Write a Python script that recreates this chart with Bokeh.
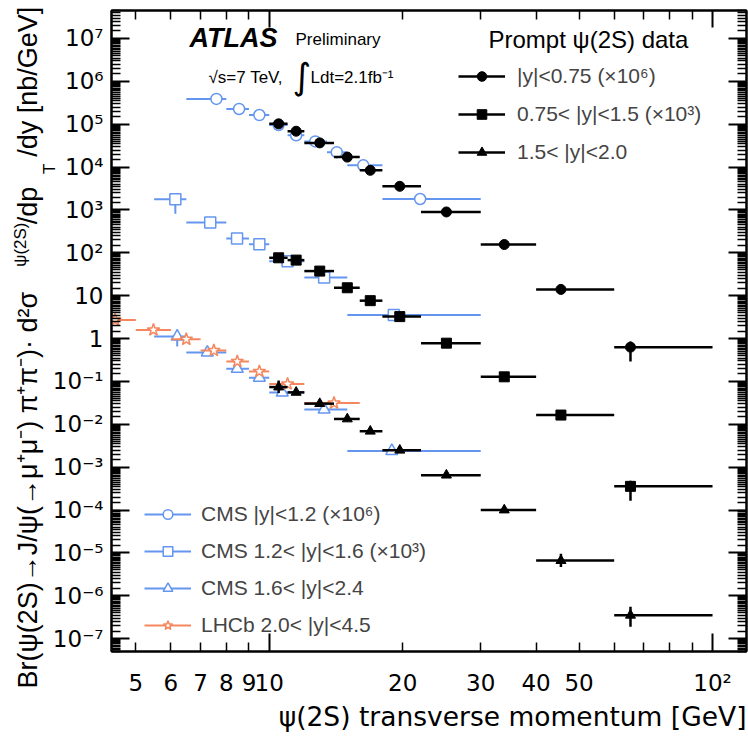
import numpy as np
from bokeh.plotting import figure
from bokeh.models import (LogAxis, FixedTicker, Legend, LegendItem, Label, Title,
                          Range1d, ColumnDataSource, CustomJSTickFormatter)
from bokeh.embed import file_html
from bokeh.resources import INLINE

# ---------------- data ----------------
atlas_pt_lo = [10, 11, 12, 14, 16, 18, 22, 30, 40, 60]
atlas_pt_hi = [11, 12, 14, 16, 18, 22, 30, 40, 60, 100]
atlas_pt = [10.5, 11.5, 13.0, 15.0, 16.9, 19.7, 25.1, 33.9, 45.5, 65.3]

# |y|<0.75 (x10^6)
atlas_central = [1.02e5, 6.87e4, 3.67e4, 1.71e4, 8.4e3, 3.56e3, 898, 156, 14.0, 0.63]
atlas_central_lo = [1.02e5, 6.87e4, 3.67e4, 1.71e4, 8.4e3, 3.56e3, 898, 156, 14.0, 0.29]
atlas_central_hi = [1.02e5, 6.87e4, 3.67e4, 1.71e4, 8.4e3, 3.56e3, 898, 156, 14.0, 0.85]
# 0.75<|y|<1.5 (x10^3)
atlas_middle = [76.5, 67.6, 37.5, 15.3, 7.65, 3.25, 0.78, 0.128, 0.0164, 3.56e-4]
atlas_middle_lo = [76.5, 67.6, 37.5, 15.3, 7.65, 3.25, 0.78, 0.128, 0.0164, 1.64e-4]
atlas_middle_hi = [76.5, 67.6, 37.5, 15.3, 7.65, 3.25, 0.78, 0.128, 0.0164, 4.8e-4]
# 1.5<|y|<2.0
atlas_forward = [0.0738, 0.0555, 0.0303, 0.0133, 6.88e-3, 2.48e-3, 6.5e-4, 1.0e-4, 6.6e-6, 3.5e-7]
atlas_forward_lo = [0.0535, 0.050, 0.0303, 0.0133, 6.88e-3, 2.48e-3, 6.5e-4, 1.0e-4, 4.7e-6, 1.9e-7]
atlas_forward_hi = [0.105, 0.062, 0.0303, 0.0133, 6.88e-3, 2.48e-3, 6.5e-4, 1.0e-4, 9.5e-6, 5.5e-7]

# CMS |y|<1.2 (x10^6)
cms1_pt_lo = [6.5, 8, 9, 10, 11, 12, 13.5, 15, 18]
cms1_pt_hi = [8, 9, 10, 11, 12, 13.5, 15, 18, 30]
cms1_pt = [7.6, 8.55, 9.5, 10.5, 11.5, 12.7, 14.2, 16.3, 21.9]
cms1_val = [3.9e5, 2.27e5, 1.64e5, 9.6e4, 5.5e4, 3.97e4, 2.23e4, 1.1e4, 1.8e3]

# CMS 1.2<|y|<1.6 (x10^3)
cms2_pt_lo = [5.5, 6.5, 8, 9, 10, 12, 15]
cms2_pt_hi = [6.5, 8, 9, 10, 12, 15, 30]
cms2_pt = [6.14, 7.36, 8.46, 9.5, 11.0, 13.3, 19.1]
cms2_val = [1.77e3, 507, 215, 159, 64, 26.7, 3.56]
cms2_lo = [820, 507, 215, 159, 64, 26.7, 3.56]
cms2_hi = [2390, 507, 215, 159, 64, 26.7, 3.56]

# CMS 1.6<|y|<2.4
cms3_pt_lo = [5.5, 6.5, 8, 9, 10, 12, 15]
cms3_pt_hi = [6.5, 8, 9, 10, 12, 15, 30]
cms3_pt = [6.2, 7.25, 8.47, 9.5, 10.7, 13.3, 18.9]
cms3_val = [1.11, 0.472, 0.197, 0.122, 0.055, 0.022, 2.39e-3]
cms3_lo = [0.652, 0.472, 0.197, 0.122, 0.055, 0.022, 2.39e-3]
cms3_hi = [1.62, 0.472, 0.197, 0.122, 0.055, 0.022, 2.39e-3]

# LHCb 2.0<|y|<4.5
lhcb_pt_lo = [4, 5, 6, 7, 8, 9, 10, 12]
lhcb_pt_hi = [5, 6, 7, 8, 9, 10, 12, 16]
lhcb_pt = [4.49, 5.48, 6.5, 7.5, 8.47, 9.5, 11.0, 14.0]
lhcb_val = [2.72, 1.59, 0.96, 0.526, 0.292, 0.171, 0.087, 0.0313]

x_tick_values = [5, 6, 7, 8, 9, 10, 20, 30, 40, 50, 100]
x_tick_labels = ["5", "6", "7", "8", "9", "10", "20", "30", "40", "50", "10\u00b2"]
y_tick_values = [1e-7, 1e-6, 1e-5, 1e-4, 1e-3, 1e-2, 1e-1, 1.0, 10.0,
                 1e2, 1e3, 1e4, 1e5, 1e6, 1e7]
y_tick_labels = ["10\u207b\u2077", "10\u207b\u2076", "10\u207b\u2075", "10\u207b\u2074",
                 "10\u207b\u00b3", "10\u207b\u00b2", "10\u207b\u00b9", "1", "10",
                 "10\u00b2", "10\u00b3", "10\u2074", "10\u2075", "10\u2076", "10\u2077"]

# ---------------- geometry ----------------
W, H = 748, 736
X0, X1 = 4.407, 119.3
Y0, Y1 = 5.0e-8, 4.5e7
FL, FR, FT, FB = 110, 746, 8, 651   # frame edges in page pixels

BLUE = "#6496f0"
ORANGE = "#f5875f"
FONT = "Liberation Sans"
DFONT = "DejaVu Sans"

p = figure(width=W, height=H, x_axis_type="log", y_axis_type="log",
           x_range=Range1d(X0, X1), y_range=Range1d(Y0, Y1),
           output_backend="svg", toolbar_location=None,
           min_border_left=FL, min_border_right=W - FR,
           min_border_top=FT, min_border_bottom=H - FB,
           background_fill_color="white", border_fill_color="white",
           outline_line_color="black", outline_line_width=2)
p.grid.visible = False

minor_x = [5, 6, 7, 8, 9, 20, 30, 40, 50, 60, 70, 80, 90]
mults = [1.5, 2, 2.5, 3, 3.5, 4, 4.5, 5, 5.5, 6, 6.5, 7, 7.5, 8, 8.5, 9, 9.5]
minor_y = [m * 10.0 ** k for k in range(-8, 8) for m in mults]


def tick_fmt(vals, labs):
    return CustomJSTickFormatter(args=dict(vals=vals, labs=labs), code="""
        let best = 0, bd = Infinity;
        for (let i = 0; i < vals.length; i++) {
            const d = Math.abs(Math.log10(vals[i]) - Math.log10(tick));
            if (d < bd) { bd = d; best = i; }
        }
        return bd < 1e-6 ? labs[best] : "";
    """)


blank_fmt = CustomJSTickFormatter(code="return '';")


def style_ticks_only(ax, major_in, minor_in):
    ax.major_tick_in = major_in
    ax.major_tick_out = 0
    ax.minor_tick_in = minor_in
    ax.minor_tick_out = 0
    ax.major_tick_line_width = 2
    ax.minor_tick_line_width = 1.5
    ax.axis_line_width = 2
    ax.major_label_text_font_size = "0px"
    ax.major_label_standoff = 0
    ax.formatter = blank_fmt


ly = p.yaxis[0]
ly.ticker = FixedTicker(ticks=y_tick_values, minor_ticks=minor_y)
ly.major_tick_in = 18
ly.major_tick_out = 0
ly.minor_tick_in = 9
ly.minor_tick_out = 0
ly.major_tick_line_width = 2
ly.minor_tick_line_width = 1.5
ly.axis_line_width = 2
ly.formatter = tick_fmt(y_tick_values, y_tick_labels)
ly.major_label_text_font = DFONT
ly.major_label_text_font_size = "23px"
ly.major_label_text_color = "black"
ly.major_label_standoff = 8

bx = p.xaxis[0]
bx.ticker = FixedTicker(ticks=[10, 100], minor_ticks=minor_x)
style_ticks_only(bx, 18, 9)

bx2 = LogAxis(ticker=FixedTicker(ticks=x_tick_values, minor_ticks=[]),
              formatter=tick_fmt(x_tick_values, x_tick_labels),
              major_tick_in=0, major_tick_out=0, minor_tick_in=0, minor_tick_out=0,
              axis_line_color=None, major_label_standoff=18,
              major_label_text_font=DFONT, major_label_text_font_size="23px",
              major_label_text_color="black")
p.add_layout(bx2, "below")

p.add_layout(Title(text="\u03c8(2S) transverse momentum [GeV]", align="right",
                   text_font=DFONT, text_font_size="26.5px", text_font_style="normal",
                   text_color="black", standoff=0, offset=0), "below")

tx = LogAxis(ticker=FixedTicker(ticks=[10, 100], minor_ticks=minor_x))
style_ticks_only(tx, 17, 9)
p.add_layout(tx, "above")
ry = LogAxis(ticker=FixedTicker(ticks=y_tick_values, minor_ticks=minor_y))
style_ticks_only(ry, 18, 9)
p.add_layout(ry, "right")


def series(x, xlo, xhi, y, ylo, yhi, color, marker, size, lw, fill, mlw):
    src = ColumnDataSource(dict(x=x, xlo=xlo, xhi=xhi, y=y,
                                ylo=ylo if ylo is not None else y,
                                yhi=yhi if yhi is not None else y))
    h = p.segment(x0="xlo", y0="y", x1="xhi", y1="y", source=src,
                  line_color=color, line_width=lw)
    p.segment(x0="x", y0="ylo", x1="x", y1="yhi", source=src,
              line_color=color, line_width=lw)
    m = p.scatter(x="x", y="y", source=src, marker=marker, size=size,
                  line_color=color, fill_color=fill, line_width=mlw)
    return [h, m]


r_cms1 = series(cms1_pt, cms1_pt_lo, cms1_pt_hi, cms1_val, None, None,
                BLUE, "circle", 11, 2, "white", 1.5)
r_cms2 = series(cms2_pt, cms2_pt_lo, cms2_pt_hi, cms2_val, cms2_lo, cms2_hi,
                BLUE, "square", 11, 2, "white", 1.5)
r_cms3 = series(cms3_pt, cms3_pt_lo, cms3_pt_hi, cms3_val, cms3_lo, cms3_hi,
                BLUE, "triangle", 12, 2, "white", 1.5)
r_lhcb = series(lhcb_pt, lhcb_pt_lo, lhcb_pt_hi, lhcb_val, None, None,
                ORANGE, "star", 13, 2, "white", 1.5)

r_c = series(atlas_pt, atlas_pt_lo, atlas_pt_hi, atlas_central,
             atlas_central_lo, atlas_central_hi, "black", "circle", 10, 2.5, "black", 1)
r_m = series(atlas_pt, atlas_pt_lo, atlas_pt_hi, atlas_middle,
             atlas_middle_lo, atlas_middle_hi, "black", "square", 10, 2.5, "black", 1)
r_f = series(atlas_pt, atlas_pt_lo, atlas_pt_hi, atlas_forward,
             atlas_forward_lo, atlas_forward_hi, "black", "triangle", 10, 2.5, "black", 1)

leg1 = Legend(items=[
    LegendItem(label="|y|<0.75 (\u00d710\u2076)", renderers=r_c),
    LegendItem(label="0.75< |y|<1.5 (\u00d710\u00b3)", renderers=r_m),
    LegendItem(label="1.5< |y|<2.0", renderers=r_f),
], location=(457 - FL, FB - 63 - (3 * 24 + 2 * 14.5)),
    glyph_width=47, glyph_height=24, label_height=24, spacing=14,
    label_standoff=12, padding=0, margin=0,
    label_text_font=FONT, label_text_font_size="21px",
    background_fill_alpha=0, border_line_color=None)
p.add_layout(leg1)

leg2 = Legend(items=[
    LegendItem(label="CMS |y|<1.2 (\u00d710\u2076)", renderers=r_cms1),
    LegendItem(label="CMS 1.2< |y|<1.6 (\u00d710\u00b3)", renderers=r_cms2),
    LegendItem(label="CMS 1.6< |y|<2.4", renderers=r_cms3),
    LegendItem(label="LHCb 2.0< |y|<4.5", renderers=r_lhcb),
], location=(143 - FL, FB - 503 - (4 * 24 + 3 * 12.7)),
    glyph_width=47, glyph_height=24, label_height=24, spacing=13,
    label_standoff=10, padding=0, margin=0,
    label_text_font=FONT, label_text_font_size="21px",
    background_fill_alpha=0, border_line_color=None)
p.add_layout(leg2)


# texts inside the main frame, positioned in page pixels
def txt(s, px, py, size, font=FONT, style="normal", align="left"):
    shift = 0.35 * size
    p.add_layout(Label(x=px - FL, y=FB - py + shift, x_units="screen", y_units="screen",
                       text=s, text_font=font,
                       text_font_size=f"{size}px", text_font_style=style,
                       text_align=align, text_baseline="alphabetic",
                       text_color="black"))


txt("ATLAS", 188, 47, 27, style="bold italic")
txt("Preliminary", 294, 45, 17)
txt("\u221as=7 TeV,", 207, 83, 17)
txt("\u222b", 291, 89, 36, font=DFONT)
txt("Ldt=2.1fb\u207b\u00b9", 309, 83, 17)
txt("Prompt \u03c8(2S) data", 487, 47, 24)

# rotated y title: pieces placed in side panels (not clipped to the frame),
# positioned through the frame's scales
lx0, lx1 = np.log10(X0), np.log10(X1)
ly0, ly1 = np.log10(Y0), np.log10(Y1)


def xd(px):
    return 10 ** (lx0 + (px - FL) / (FR - FL) * (lx1 - lx0))


def yd(py):
    return 10 ** (ly1 - (py - FT) / (FB - FT) * (ly1 - ly0))


def vtxt(t, base_x, py, size, side):
    # base_x: position of the text's baseline (page px); py: where the text starts
    p.add_layout(Label(x=xd(base_x - 0.97 * size), y=yd(py), text=t, text_font=FONT,
                       text_font_size=f"{size}px", text_align="left",
                       text_baseline="alphabetic", text_color="black",
                       angle=np.pi / 2), side)


NB = "\u00a0"
main_title = ("Br(\u03c8(2S)\u2192J/\u03c8(\u2192\u03bc\u207a\u03bc\u207b) \u03c0\u207a\u03c0\u207b)\u00b7"
              + NB + "d\u00b2\u03c3" + NB * 9 + "/dp" + NB * 4 + "/dy [nb/GeV]")
vtxt(main_title, 53, 688, 27, "left")
vtxt("\u03c8(2S)", 35, 265, 17, "left")
vtxt("T", 64, 172, 17, "above")

open("out.html", "w").write(file_html(p, INLINE))
